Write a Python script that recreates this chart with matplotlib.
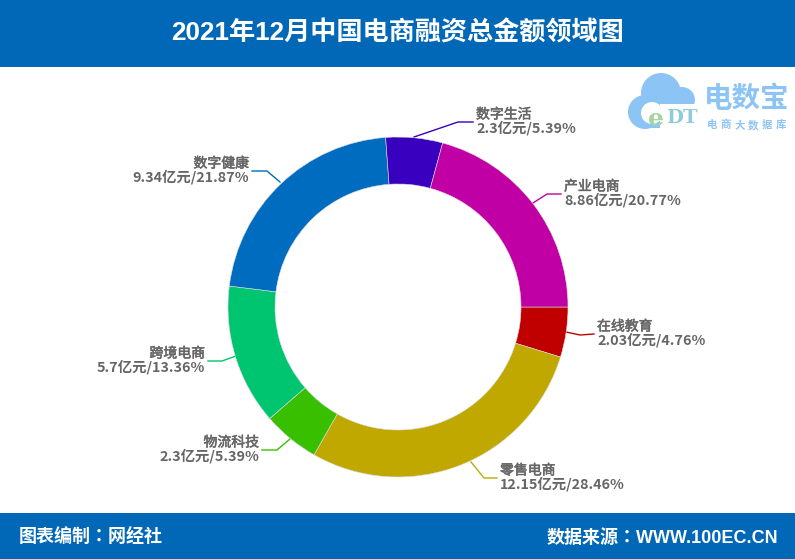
import matplotlib
matplotlib.use('Agg')
import matplotlib.pyplot as plt
import matplotlib.patheffects as pe
from matplotlib.patches import Rectangle, Circle, FancyBboxPatch

plt.rcParams['font.family'] = ['Noto Sans CJK SC', 'DejaVu Sans']

# 時計回り、3時の位置から
categories = ['在线教育', '零售电商', '物流科技', '跨境电商', '数字健康', '数字生活', '产业电商']
amounts = ['2.03', '12.15', '2.3', '5.7', '9.34', '2.3', '8.86']
shares = [4.76, 28.46, 5.39, 13.36, 21.87, 5.39, 20.77]
colors = ['#C00000', '#C0A800', '#38C000', '#00C570', '#006CBF', '#3A00BF', '#C000A4']

title = '2021年12月中国电商融资总金额领域图'
footer_left = '图表编制：网经社'
footer_right = '数据来源：WWW.100EC.CN'

W, H = 795, 559
fig = plt.figure(figsize=(W / 100, H / 100), dpi=100)

# 画面全体のピクセル座標
bg = fig.add_axes([0, 0, 1, 1])
bg.set_xlim(0, W)
bg.set_ylim(H, 0)
bg.axis('off')
bg.add_patch(Rectangle((0, 0), W, 67, color='#0168B7', lw=0))
bg.add_patch(Rectangle((0, 513), W, 46, color='#0168B7', lw=0))
head_font = ['Liberation Sans', 'Noto Sans CJK SC']
foot_font = ['Liberation Sans', 'Noto Sans CJK TC']
bg.text(398, 33, title, color='white', fontsize=18.85, fontweight='bold', family=head_font,
        ha='center', va='center')
bg.text(19, 538, footer_left, color='white', fontsize=13, fontweight='bold', family=foot_font, va='center')
bg.text(778, 538, footer_right, color='white', fontsize=13, fontweight='bold', family=foot_font,
        va='center', ha='right')

# ドーナツ
cx, cy, r = 398, 307, 170
ax = fig.add_axes([(cx - r) / W, 1 - (cy + r) / H, 2 * r / W, 2 * r / H])
ax.pie(shares, colors=colors, startangle=0, counterclock=False, radius=1,
       wedgeprops=dict(width=1 - 123 / 170, linewidth=0.4, edgecolor='#dddddd'))
ax.set_xlim(-1, 1)
ax.set_ylim(-1, 1)

# 引き出し線とラベル
leaders = [
    [(566, 332), (580, 335), (594, 334)],
    [(471, 462), (484, 478), (497, 478)],
    [(290, 439), (277, 450), (262, 450)],
    [(236, 356), (222, 361), (208, 361)],
    [(280, 182), (267, 171), (252, 171)],
    [(414, 137), (458, 122), (473, 122)],
    [(533, 203), (547, 194), (561, 194)],
]
for i, pts in enumerate(leaders):
    xs = [p[0] for p in pts]
    ys = [p[1] for p in pts]
    bg.plot(xs, ys, color=colors[i], lw=1, zorder=1)
    right_side = xs[-1] > xs[0]
    tx = xs[-1] + 3 if right_side else xs[-1] - 3
    ha = 'left' if right_side else 'right'
    bg.text(tx, ys[-1] - 7.5, categories[i], color='#666666', fontsize=10, ha=ha, va='center',
            path_effects=[pe.withStroke(linewidth=0.4, foreground='#666666')])
    bg.text(tx, ys[-1] + 6.5, f'{amounts[i]}亿元/{shares[i]}%', color='#666666', fontsize=10.35,
            fontweight='bold', ha=ha, va='center')

# ロゴ
logo = '#8CC4F5'
for x, y, rad in [(645, 112, 17), (661, 93, 20), (682, 100, 13), (682, 116, 12)]:
    bg.add_patch(Circle((x, y), rad, color=logo, lw=0, zorder=2))
bg.add_patch(FancyBboxPatch((642, 106), 40, 20, boxstyle='round,pad=2', color=logo, lw=0, zorder=2))
bg.add_patch(Circle((652, 113), 11, color='white', lw=0, zorder=3))
bg.add_patch(Rectangle((660, 104), 40, 26, color='white', lw=0, zorder=3))
bg.text(656, 119, 'e', color='#A6D6A0', fontsize=18, family='DejaVu Serif', fontweight='bold', ha='center', va='center', zorder=4)
bg.text(682, 118, 'DT', color='#8FCBD8', fontsize=14, family='DejaVu Serif', fontweight='bold', ha='center', va='center', zorder=4)
bg.text(747, 99, '电数宝', color=logo, fontsize=20.5, fontweight='bold', ha='center', va='center', zorder=4)
for i, ch in enumerate('电商大数据库'):
    bg.text(712 + 13.8 * i, 125, ch, color=logo, fontsize=7.5, fontweight='bold', ha='center', va='center', zorder=4)

fig.savefig('out.png', dpi=100)
